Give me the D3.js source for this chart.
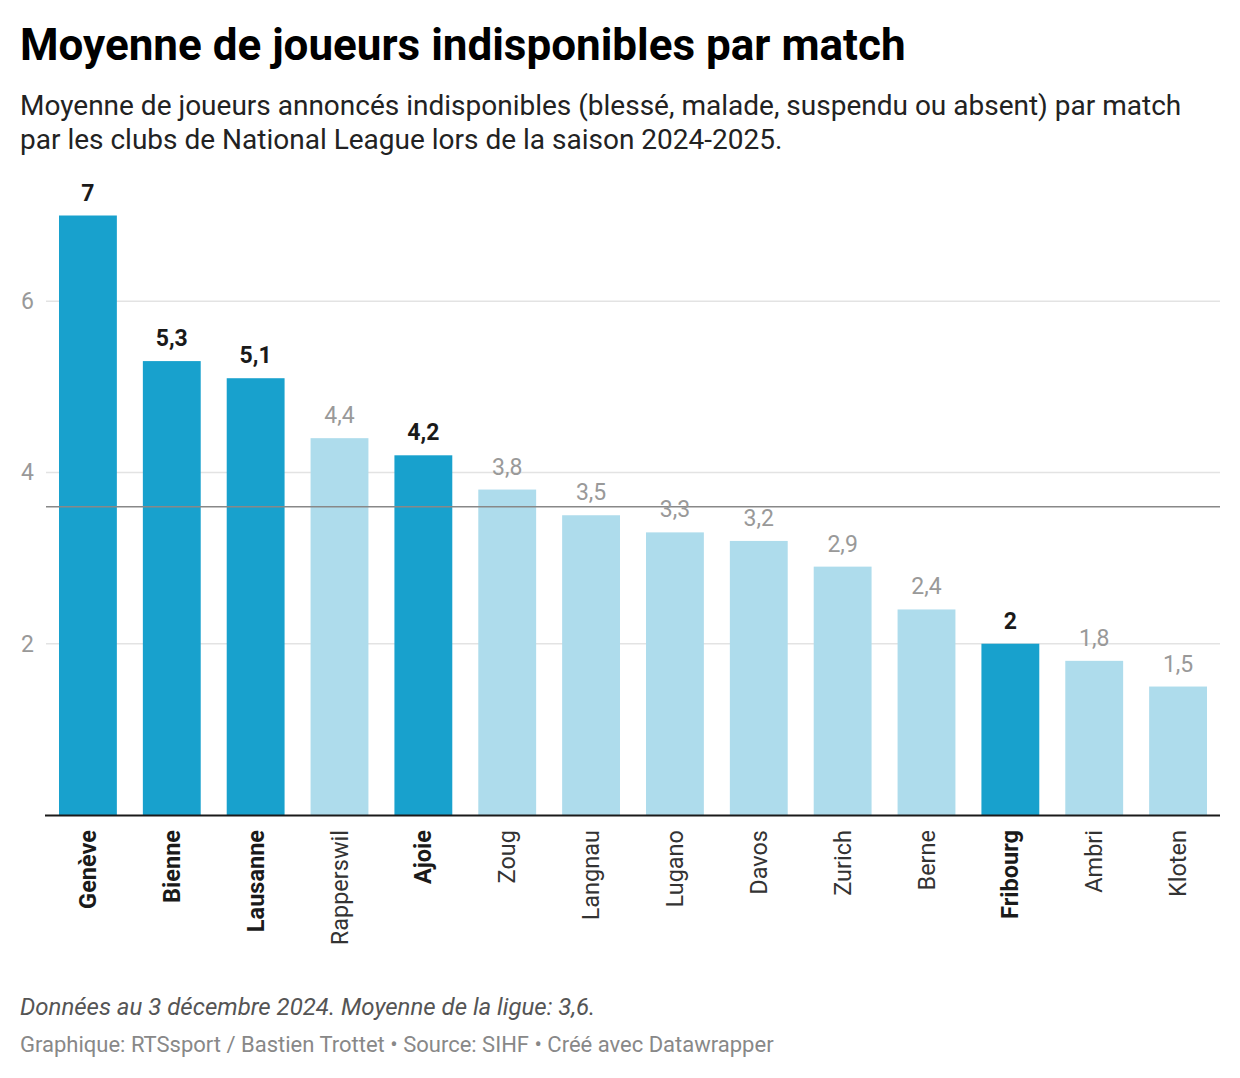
<!DOCTYPE html>
<html><head><meta charset="utf-8">
<script src="https://cdn.jsdelivr.net/npm/d3@7"></script>
<style>
body{margin:0;background:#fff;font-family:Roboto,"Noto Sans",sans-serif;}
</style></head><body>
<svg id="c" width="1240" height="1078"></svg>
<script>
const categories = ["Genève","Bienne","Lausanne","Rapperswil","Ajoie","Zoug","Langnau","Lugano","Davos","Zurich","Berne","Fribourg","Ambri","Kloten"];
const values = [7,5.3,5.1,4.4,4.2,3.8,3.5,3.3,3.2,2.9,2.4,2,1.8,1.5];
const highlighted = ["Genève","Bienne","Lausanne","Ajoie","Fribourg"];
const yTicks = [2,4,6];
const leagueAverage = 3.6;

const svg = d3.select("#c");
const fmt = v => String(v).replace(".", ",");

svg.append("text").attr("x",20).attr("y",60).attr("font-size",44).attr("font-weight",700).attr("fill","#000")
  .text("Moyenne de joueurs indisponibles par match");
svg.append("text").attr("x",20).attr("y",115).attr("font-size",28).attr("fill","#222")
  .text("Moyenne de joueurs annoncés indisponibles (blessé, malade, suspendu ou absent) par match");
svg.append("text").attr("x",20).attr("y",149).attr("font-size",28).attr("fill","#222")
  .text("par les clubs de National League lors de la saison 2024-2025.");

const x = d3.scaleBand().domain(categories).range([46,1220]).paddingInner(0.31).paddingOuter(0.155);
const y = d3.scaleLinear().domain([0,7]).range([815,215.5]);

const g = svg.append("g");
g.selectAll(".grid").data(yTicks).join("line")
  .attr("x1",46).attr("x2",1220).attr("y1",d=>y(d)).attr("y2",d=>y(d))
  .attr("stroke","#e3e3e3").attr("stroke-width",1.5);
g.selectAll(".yl").data(yTicks).join("text")
  .attr("x",34).attr("y",d=>y(d)).attr("dy","0.35em").attr("text-anchor","end")
  .attr("font-size",23).attr("fill","#999").text(d=>d);

const data = categories.map((c,i)=>({c, v:values[i], h:highlighted.includes(c)}));
g.selectAll(".bar").data(data).join("rect")
  .attr("x",d=>x(d.c)).attr("width",x.bandwidth())
  .attr("y",d=>y(d.v)).attr("height",d=>y(0)-y(d.v))
  .attr("fill",d=>d.h?"#18a1cd":"#aedcec");

g.append("line").attr("x1",46).attr("x2",1220).attr("y1",y(leagueAverage)).attr("y2",y(leagueAverage))
  .attr("stroke","#888").attr("stroke-width",1.5);

g.selectAll(".vl").data(data).join("text")
  .attr("x",d=>x(d.c)+x.bandwidth()/2).attr("y",d=>y(d.v)-15)
  .attr("text-anchor","middle").attr("font-size",23)
  .attr("font-weight",d=>d.h?700:400).attr("fill",d=>d.h?"#1a1a1a":"#999")
  .text(d=>fmt(d.v));

g.append("line").attr("x1",45).attr("x2",1220).attr("y1",y(0)+0.5).attr("y2",y(0)+0.5)
  .attr("stroke","#1a1a1a").attr("stroke-width",2);

g.selectAll(".xl").data(data).join("text")
  .attr("transform",d=>`translate(${x(d.c)+x.bandwidth()/2+8},830) rotate(-90)`)
  .attr("text-anchor","end").attr("font-size",23.5)
  .attr("font-weight",d=>d.h?700:400).attr("fill",d=>d.h?"#1a1a1a":"#333")
  .text(d=>d.c);

svg.append("text").attr("x",20).attr("y",1015).attr("font-size",24).attr("font-style","italic").attr("fill","#555")
  .text("Données au 3 décembre 2024. Moyenne de la ligue: 3,6.");
svg.append("text").attr("x",20).attr("y",1052).attr("font-size",22).attr("fill","#888")
  .text("Graphique: RTSsport / Bastien Trottet • Source: SIHF • Créé avec Datawrapper");
</script></body></html>
